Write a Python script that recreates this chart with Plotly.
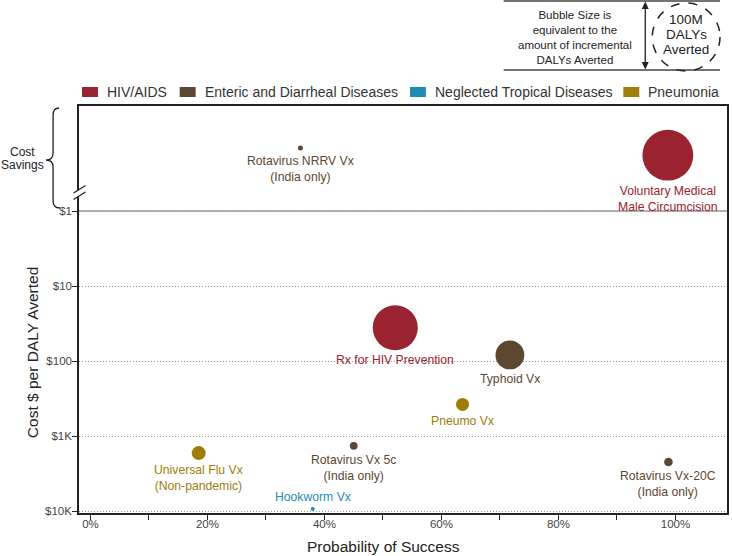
import math
import plotly.graph_objects as go

# ---------------- data ----------------
names = [
    "Rotavirus NRRV Vx<br>(India only)",
    "Voluntary Medical<br>Male Circumcision",
    "Rx for HIV Prevention",
    "Typhoid Vx",
    "Pneumo Vx",
    "Universal Flu Vx<br>(Non-pandemic)",
    "Rotavirus Vx 5c<br>(India only)",
    "Rotavirus Vx-20C<br>(India only)",
    "Hookworm Vx",
]
category = [
    "Enteric and Diarrheal Diseases",
    "HIV/AIDS",
    "HIV/AIDS",
    "Enteric and Diarrheal Diseases",
    "Pneumonia",
    "Pneumonia",
    "Enteric and Diarrheal Diseases",
    "Enteric and Diarrheal Diseases",
    "Neglected Tropical Diseases",
]
prob_success = [35.9, 98.7, 52.1, 71.7, 63.6, 18.5, 45.0, 98.8, 38.0]      # %
cost_per_daly = [0.145, 0.18, 36, 83, 380, 1690, 1350, 2220, 9400]         # $ (values < $1 = cost savings band)
dalys_averted_m = [0.55, 56, 44, 18, 3.7, 4.2, 1.3, 1.6, 0.35]             # millions

cat_order = ["HIV/AIDS", "Enteric and Diarrheal Diseases", "Neglected Tropical Diseases", "Pneumonia"]
cat_colors = {
    "HIV/AIDS": "#9b2230",
    "Enteric and Diarrheal Diseases": "#5c4731",
    "Neglected Tropical Diseases": "#1e8cb4",
    "Pneumonia": "#9e7d0b",
}

y_tickvals = [1, 10, 100, 1000, 10000]
y_ticktext = ["$1", "$10", "$100", "$1K", "$10K"]
x_tickvals = list(range(0, 101, 10))
x_ticktext = [f"{v}%" if v % 20 == 0 else "" for v in x_tickvals]

REF_DALYS_M = 100  # reference bubble in the note box

# ---------------- layout helpers ----------------
W, H = 732, 556
L, R, T, B = 79, 3, 106, 43
PW, PH = W - L - R, H - T - B
FONT = "Liberation Sans, Arial, sans-serif"
REF_DIAM = 68
sizeref = 2.0 * REF_DALYS_M / REF_DIAM ** 2

x0_px, x100_px = 90.5, 677.3
ppu = (x100_px - x0_px) / 100
y1_px, ppd = 211, 75


def px(x):
    return (x - L) / PW


def py(y):
    return (H - B - y) / PH


def path(s):
    toks = s.split()
    out = []
    i = 0
    while i < len(toks):
        t = toks[i]
        if t.isalpha():
            out.append(t)
            i += 1
        else:
            x, y = float(toks[i]), float(toks[i + 1])
            out.append(f"{px(x):.5f},{py(y):.5f}")
            i += 2
    return " ".join(out)


def note(x, y, text, size=12, color="#222", xanchor="center", yanchor="middle", **kw):
    d = dict(x=px(x), y=py(y), xref="paper", yref="paper", text=text, showarrow=False,
             xanchor=xanchor, yanchor=yanchor, font=dict(family=FONT, size=size, color=color))
    d.update(kw)
    return d


fig = go.Figure()

for cat in cat_order:
    idx = [i for i, c in enumerate(category) if c == cat]
    fig.add_trace(go.Scatter(
        x=[prob_success[i] for i in idx],
        y=[cost_per_daly[i] for i in idx],
        mode="markers",
        name=cat,
        text=[names[i].replace("<br>", " ") for i in idx],
        marker=dict(size=[dalys_averted_m[i] for i in idx], sizemode="area",
                    sizeref=sizeref, color=cat_colors[cat], line=dict(width=0), opacity=1),
        showlegend=False,
        hovertemplate="%{text}<br>%{x}%<br>$%{y}<extra></extra>",
    ))

annotations = []
label_above = {"Hookworm Vx"}
for i, n in enumerate(names):
    r = REF_DIAM * math.sqrt(dalys_averted_m[i] / REF_DALYS_M) / 2
    above = n in label_above
    annotations.append(dict(
        x=prob_success[i], y=math.log10(cost_per_daly[i]), xref="x", yref="y",
        text=n, showarrow=False, xanchor="center",
        yanchor="bottom" if above else "top",
        yshift=(r + 1) if above else -(r + 1),
        font=dict(family=FONT, size=12.2, color=cat_colors[category[i]]),
    ))

# manual legend
legend_x = [82, 180, 411, 625]
shapes = []
for cat, lx in zip(cat_order, legend_x):
    shapes.append(dict(type="rect", xref="paper", yref="paper",
                       x0=px(lx), x1=px(lx + 16), y0=py(97), y1=py(87),
                       fillcolor=cat_colors[cat], line=dict(width=0)))
    annotations.append(note(lx + 23, 92, cat, size=14, color="#333", xanchor="left"))

# solid $1 line (boundary of the cost-savings band)
shapes.append(dict(type="line", xref="paper", yref="paper", x0=0, x1=1,
                   y0=py(y1_px), y1=py(y1_px),
                   line=dict(color="#999", width=1.5), layer="above"))

# axis break marks
shapes.append(dict(type="path", xref="paper", yref="paper",
                   path=path("M 74 193 L 85 186 L 85 192 L 74 199 Z"),
                   fillcolor="white", line=dict(width=0), layer="above"))
shapes.append(dict(type="path", xref="paper", yref="paper",
                   path=path("M 73.5 193 L 85.5 185.5"), line=dict(color="#222", width=1.3), layer="above"))
shapes.append(dict(type="path", xref="paper", yref="paper",
                   path=path("M 73.5 199.5 L 85.5 192"), line=dict(color="#222", width=1.3), layer="above"))

# cost savings brace
shapes.append(dict(type="path", xref="paper", yref="paper",
                   path=path("M 59 108 Q 53 108 53 115 L 53 153 Q 53 160 46 160 "
                             "Q 53 160 53 167 L 53 201 Q 53 208 60 208"),
                   line=dict(color="#222", width=1.3)))
annotations.append(note(22, 152, "Cost", size=12))
annotations.append(note(22, 164.5, "Savings", size=12))

# top-right note box
for yy in (1, 70):
    shapes.append(dict(type="line", xref="paper", yref="paper",
                       x0=px(505), x1=px(722), y0=py(yy), y1=py(yy),
                       line=dict(color="#444", width=1.3)))
shapes.append(dict(type="line", xref="paper", yref="paper",
                   x0=px(647), x1=px(647), y0=py(5), y1=py(66),
                   line=dict(color="#222", width=1.3)))
shapes.append(dict(type="path", xref="paper", yref="paper",
                   path=path("M 647 1.5 L 643.5 9 L 650.5 9 Z"),
                   fillcolor="#222", line=dict(width=0)))
shapes.append(dict(type="path", xref="paper", yref="paper",
                   path=path("M 647 69.5 L 643.5 62 L 650.5 62 Z"),
                   fillcolor="#222", line=dict(width=0)))
shapes.append(dict(type="circle", xref="paper", yref="paper",
                   x0=px(688 - REF_DIAM / 2), x1=px(688 + REF_DIAM / 2),
                   y0=py(37 + REF_DIAM / 2), y1=py(37 - REF_DIAM / 2),
                   line=dict(color="#222", width=1.5, dash="dash")))
annotations.append(note(577, 37.5,
                        "Bubble Size is<br>equivalent to the<br>amount of incremental<br>DALYs Averted",
                        size=11.5))
for txt, yy in (("100M", 19), ("DALYs", 34.5), ("Averted", 50)):
    annotations.append(note(688, yy, txt, size=13.5))

# axis titles
annotations.append(note(384, 546.5, "Probability of Success", size=15.5))
annotations.append(note(32, 353, "Cost $ per DALY Averted", size=15.5, textangle=-90))

fig.update_layout(
    width=W, height=H,
    margin=dict(l=L, r=R, t=T, b=B),
    paper_bgcolor="white", plot_bgcolor="white",
    font=dict(family=FONT, color="#333"),
    showlegend=False,
    shapes=shapes,
    annotations=annotations,
    xaxis=dict(
        range=[(L - x0_px) / ppu, (W - R - x0_px) / ppu],
        tickvals=x_tickvals, ticktext=x_ticktext,
        ticks="outside", ticklen=5, tickwidth=1.3, tickcolor="#222",
        ticklabelstandoff=-6,
        tickfont=dict(size=11.5, color="#444"),
        showgrid=False, zeroline=False,
        showline=True, linecolor="#222", linewidth=1.5, mirror=True,
    ),
    yaxis=dict(
        type="log",
        range=[(H - B - y1_px) / ppd, (T - y1_px) / ppd],
        tickvals=y_tickvals, ticktext=y_ticktext,
        ticks="outside", ticklen=5, tickwidth=1.3, tickcolor="#222",
        ticklabelstandoff=-2,
        tickfont=dict(size=11.5, color="#444"),
        showgrid=True, gridcolor="#999", griddash="1px,2px", gridwidth=1,
        zeroline=False,
        showline=True, linecolor="#222", linewidth=1.5, mirror=True,
    ),
)

fig.write_html("out.html",
               config={"displayModeBar": False},
               post_script="document.body.style.margin='0';document.body.style.overflow='hidden';")
